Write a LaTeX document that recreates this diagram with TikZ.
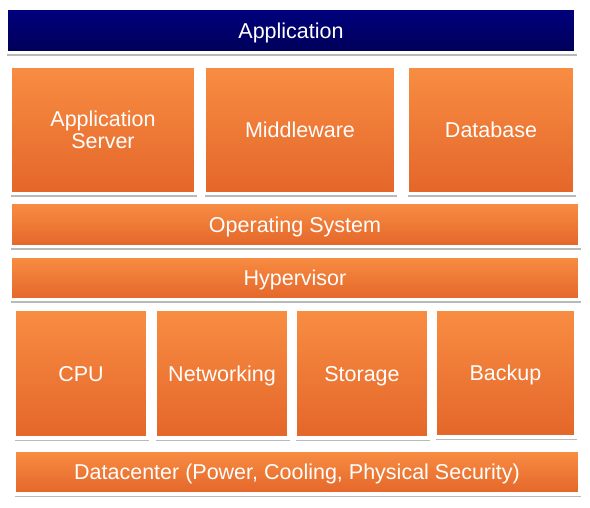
\documentclass[tikz,border=0pt]{standalone}
\usepackage{fontspec}
\setmainfont{Liberation Sans}
\usepackage{tikz}
\usetikzlibrary{shadows}
\definecolor{orangetop}{HTML}{F88D42}
\definecolor{orangebot}{HTML}{E4662A}
\definecolor{navytop}{HTML}{00007E}
\definecolor{navybot}{HTML}{000058}
\tikzset{layer/.style={rectangle, draw=white, line width=3.5pt, inner sep=0pt, text=white, align=center,
  text depth=0pt, font=\fontsize{21.5}{24}\selectfont, top color=orangetop, bottom color=orangebot,
  drop shadow={shadow xshift=1pt, shadow yshift=-3pt, fill=black!50, opacity=.55}}}
\tikzset{navylayer/.style={layer, top color=navytop, bottom color=navybot}}

\begin{document}
\begin{tikzpicture}[x=1pt, y=-1pt]
\useasboundingbox (0,0) rectangle (590,508);
\node[navylayer, minimum width=569.5pt, minimum height=44.5pt] (app) at (291,30.5) {Application};
% middle tier
\node[layer, minimum width=185.5pt, minimum height=127.5pt] (appsrv) at (103,130) {Application\\[-2pt]Server};
\node[layer, minimum width=191.5pt, minimum height=127.5pt] (mw) at (300,130) {Middleware};
\node[layer, minimum width=167.5pt, minimum height=127.5pt] (db) at (491,130) {Database};
\node[layer, minimum width=569.5pt, minimum height=44.5pt] (os) at (295,224.5) {Operating System};
\node[layer, minimum width=569.5pt, minimum height=43.5pt] (hv) at (295,278) {Hypervisor};
% hardware
\node[layer, minimum width=133.5pt, minimum height=128.5pt] (cpu) at (81,373.5) {CPU};
\node[layer, minimum width=133.5pt, minimum height=128.5pt] (net) at (222,373.5) {Networking};
\node[layer, minimum width=133.5pt, minimum height=128.5pt] (sto) at (362,373.5) {Storage};
\node[layer, minimum width=140.5pt, minimum height=127.5pt] (bak) at (505.5,373) {Backup};
\node[layer, minimum width=565.5pt, minimum height=43.5pt] (dc) at (297,472) {Datacenter (Power, Cooling, Physical Security)};
\end{tikzpicture}
\end{document}
